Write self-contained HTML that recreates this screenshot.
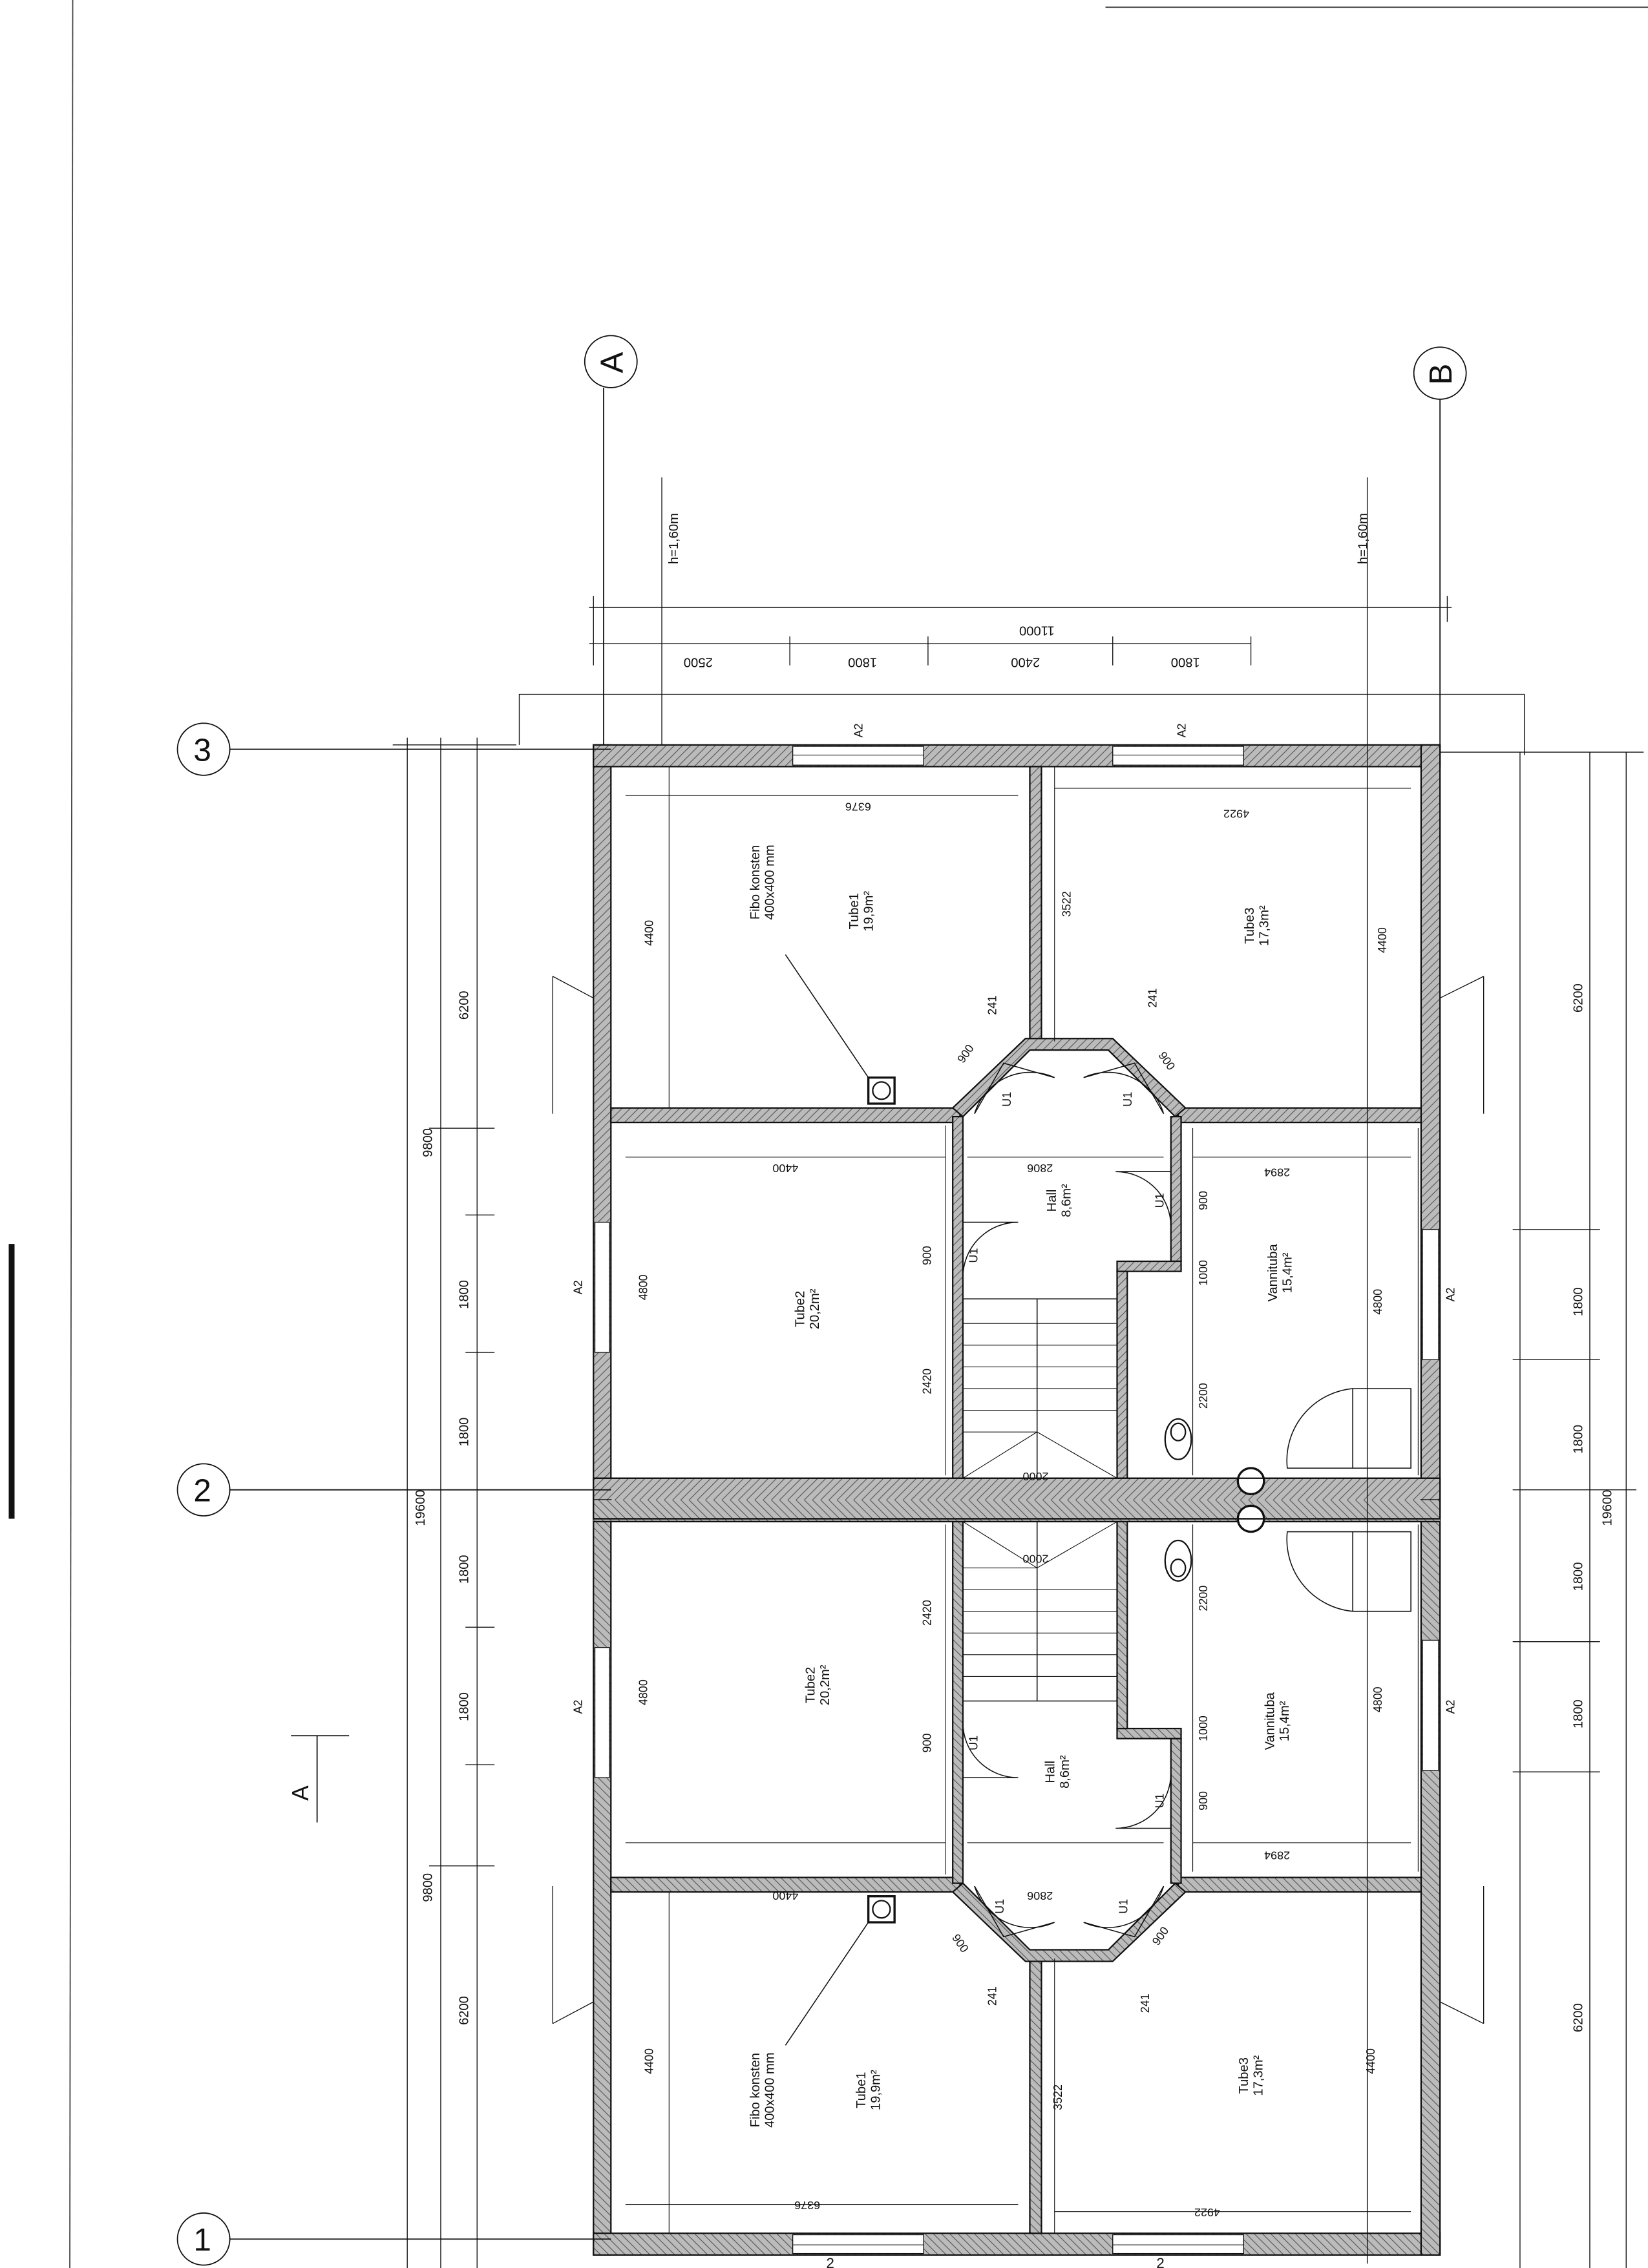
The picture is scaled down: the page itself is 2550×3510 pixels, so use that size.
<!DOCTYPE html>
<html><head><meta charset="utf-8"><style>
html,body{margin:0;padding:0;background:#fff;}
svg{display:block;}
text{font-family:"Liberation Sans",sans-serif;fill:#111;}
</style></head><body>
<svg width="2550" height="3510" viewBox="0 0 1133 1568" preserveAspectRatio="none" xmlns="http://www.w3.org/2000/svg">
<defs>
<pattern id="h" width="4" height="4" patternUnits="userSpaceOnUse" patternTransform="rotate(45)">
<rect width="4" height="4" fill="#bbb"/><line x1="0" y1="0" x2="0" y2="4" stroke="#555" stroke-width="1"/>
</pattern>
<g id="half">
<!-- outer walls -->
<rect x="408" y="515" width="12" height="522" fill="url(#h)" stroke="#111"/>
<rect x="408" y="515" width="582" height="15" fill="url(#h)" stroke="#111"/>
<rect x="977" y="515" width="13" height="522" fill="url(#h)" stroke="#111"/>
<!-- windows -->
<rect x="545" y="516" width="90" height="13" fill="#fff" stroke="#111" stroke-width="0.6"/>
<line x1="545" y1="522" x2="635" y2="522" stroke="#111" stroke-width="0.5"/>
<rect x="765" y="516" width="90" height="13" fill="#fff" stroke="#111" stroke-width="0.6"/>
<line x1="765" y1="522" x2="855" y2="522" stroke="#111" stroke-width="0.5"/>
<rect x="409" y="845" width="10" height="90" fill="#fff" stroke="#111" stroke-width="0.6"/>
<rect x="978" y="850" width="11" height="90" fill="#fff" stroke="#111" stroke-width="0.6"/>
<!-- interior walls -->
<rect x="420" y="766" width="240" height="10" fill="url(#h)" stroke="#111"/>
<rect x="810" y="766" width="167" height="10" fill="url(#h)" stroke="#111"/>
<rect x="708" y="530" width="8" height="190" fill="url(#h)" stroke="#111"/>
<polygon points="655,766 705,718 765,718 815,766 808,772 762,726 708,726 662,772" fill="url(#h)" stroke="#111"/>
<rect x="655" y="772" width="7" height="250" fill="url(#h)" stroke="#111"/>
<rect x="805" y="772" width="7" height="100" fill="url(#h)" stroke="#111"/>
<rect x="768" y="872" width="44" height="7" fill="url(#h)" stroke="#111"/>
<rect x="768" y="879" width="7" height="143" fill="url(#h)" stroke="#111"/>
<!-- party wall half -->
<rect x="408" y="1022" width="582" height="15" fill="url(#h)" stroke="none"/>
<line x1="408" y1="1022" x2="990" y2="1022" stroke="#111"/>
<!-- stairs -->
<rect x="662" y="898" width="106" height="124" fill="none" stroke="#111" stroke-width="0.7"/>
<line x1="713" y1="898" x2="713" y2="1022" stroke="#111" stroke-width="0.7"/>
<g stroke="#111" stroke-width="0.5">
<line x1="662" y1="915" x2="713" y2="915"/><line x1="662" y1="930" x2="713" y2="930"/><line x1="662" y1="945" x2="713" y2="945"/><line x1="662" y1="960" x2="713" y2="960"/><line x1="662" y1="975" x2="713" y2="975"/><line x1="662" y1="990" x2="713" y2="990"/>
<line x1="713" y1="915" x2="768" y2="915"/><line x1="713" y1="930" x2="768" y2="930"/><line x1="713" y1="945" x2="768" y2="945"/><line x1="713" y1="960" x2="768" y2="960"/><line x1="713" y1="975" x2="768" y2="975"/>
<line x1="662" y1="1022" x2="713" y2="990"/><line x1="713" y1="990" x2="768" y2="1022"/>
</g>
<!-- doors -->
<g fill="none" stroke="#111" stroke-width="0.7">
<path d="M662,845 L700,845 A38,38 0 0 0 662,883"/>
<path d="M805,810 L767,810 A38,38 0 0 1 805,848"/>
<path d="M690,735 L670,770 A40,40 0 0 1 725,745 Z"/>
<path d="M780,735 L800,770 A40,40 0 0 0 745,745 Z"/>
<path d="M930,960 A50,50 0 0 0 885,1015 L930,1015 Z"/>
<path d="M930,960 L970,960 L970,1015 L930,1015"/>
</g>
<ellipse cx="810" cy="995" rx="9" ry="14" fill="none" stroke="#111"/>
<ellipse cx="810" cy="990" rx="5" ry="6" fill="none" stroke="#111"/>
<circle cx="860" cy="1024" r="9" fill="#fff" stroke="#111" stroke-width="1.5"/>
<rect x="597" y="745" width="18" height="18" fill="#fff" stroke="#111" stroke-width="1.5"/>
<circle cx="606" cy="754" r="6" fill="none" stroke="#111"/>
<line x1="597" y1="745" x2="540" y2="660" stroke="#111" stroke-width="0.7"/>
<!-- interior dimension lines -->
<g stroke="#111" stroke-width="0.5">
<line x1="430" y1="550" x2="700" y2="550"/><line x1="725" y1="545" x2="970" y2="545"/>
<line x1="460" y1="530" x2="460" y2="766"/><line x1="725" y1="530" x2="725" y2="720"/>
<line x1="940" y1="530" x2="940" y2="766"/>
<line x1="430" y1="800" x2="650" y2="800"/><line x1="665" y1="800" x2="800" y2="800"/>
<line x1="820" y1="800" x2="970" y2="800"/>
<line x1="420" y1="780" x2="420" y2="1020"/><line x1="650" y1="778" x2="650" y2="1020"/>
<line x1="820" y1="780" x2="820" y2="1020"/><line x1="975" y1="780" x2="975" y2="1020"/>
</g>
<!-- small exterior marks -->
<polyline points="380,675 408,690" fill="none" stroke="#111" stroke-width="0.6"/>
<line x1="380" y1="675" x2="380" y2="770" stroke="#111" stroke-width="0.6"/>
<line x1="1020" y1="675" x2="990" y2="690" stroke="#111" stroke-width="0.6"/>
<line x1="1020" y1="675" x2="1020" y2="770" stroke="#111" stroke-width="0.6"/>
</g>
</defs>

<!-- page border lines -->
<line x1="50" y1="0" x2="48" y2="1568" stroke="#444" stroke-width="0.8"/>
<line x1="760" y1="5" x2="1133" y2="5" stroke="#444" stroke-width="0.8"/>
<rect x="6" y="860" width="4" height="190" fill="#111"/>

<!-- context outline -->
<g stroke="#111" stroke-width="0.6" fill="none">
<polyline points="357,515 357,480 1048,480 1048,522"/>
</g>

<use href="#half"/>
<use href="#half" transform="translate(0,2074) scale(1,-1)"/>
<line x1="408" y1="1050" x2="990" y2="1050" stroke="#111"/>
<rect x="408" y="1022" width="582" height="28" fill="none" stroke="#111"/>

<!-- grid lines -->
<g stroke="#111" stroke-width="0.8" fill="none">
<circle cx="140" cy="518" r="18"/><line x1="158" y1="518" x2="420" y2="518"/>
<circle cx="140" cy="1030" r="18"/><line x1="158" y1="1030" x2="420" y2="1030"/>
<circle cx="140" cy="1548" r="18"/><line x1="158" y1="1548" x2="420" y2="1548"/>
<circle cx="420" cy="250" r="18"/><line x1="415" y1="268" x2="415" y2="515"/>
<circle cx="990" cy="258" r="18"/><line x1="990" y1="276" x2="990" y2="515"/>
</g>
<g font-size="22">
<text x="133" y="526">3</text><text x="133" y="1038">2</text><text x="133" y="1556">1</text>
<text x="412" y="258" transform="rotate(-90 420 250)" font-size="22">A</text>
<text x="982" y="266" transform="rotate(-90 990 258)" font-size="22">B</text>
</g>

<!-- h=1,60m lines -->
<g stroke="#111" stroke-width="0.6">
<line x1="455" y1="330" x2="455" y2="515"/><line x1="940" y1="330" x2="940" y2="1565"/>
</g>
<g font-size="9">
<text transform="translate(466,390) rotate(-90)">h=1,60m</text>
<text transform="translate(940,390) rotate(-90)">h=1,60m</text>
</g>

<!-- top dimensions -->
<g stroke="#111" stroke-width="0.6">
<line x1="405" y1="420" x2="998" y2="420"/><line x1="405" y1="445" x2="860" y2="445"/>
<line x1="408" y1="412" x2="408" y2="460"/><line x1="995" y1="412" x2="995" y2="430"/>
<line x1="543" y1="440" x2="543" y2="460"/><line x1="638" y1="440" x2="638" y2="460"/>
<line x1="765" y1="440" x2="765" y2="460"/><line x1="860" y1="440" x2="860" y2="460"/>
</g>
<g font-size="9">
<text transform="translate(725,433) rotate(180)">11000</text>
<text transform="translate(490,455) rotate(180)">2500</text>
<text transform="translate(603,455) rotate(180)">1800</text>
<text transform="translate(715,455) rotate(180)">2400</text>
<text transform="translate(825,455) rotate(180)">1800</text>
</g>

<!-- left dimensions -->
<g stroke="#111" stroke-width="0.6">
<line x1="280" y1="510" x2="280" y2="1568"/><line x1="303" y1="510" x2="303" y2="1568"/>
<line x1="328" y1="510" x2="328" y2="1568"/>
<line x1="270" y1="515" x2="355" y2="515"/><line x1="270" y1="1030" x2="340" y2="1030"/>
<line x1="295" y1="780" x2="340" y2="780"/><line x1="320" y1="840" x2="340" y2="840"/>
<line x1="320" y1="935" x2="340" y2="935"/><line x1="320" y1="1125" x2="340" y2="1125"/>
<line x1="320" y1="1220" x2="340" y2="1220"/><line x1="295" y1="1290" x2="340" y2="1290"/>
<line x1="1045" y1="520" x2="1045" y2="1568"/><line x1="1093" y1="520" x2="1093" y2="1568"/>
<line x1="1118" y1="520" x2="1118" y2="1568"/><line x1="990" y1="520" x2="1130" y2="520"/>
<line x1="1040" y1="850" x2="1100" y2="850"/><line x1="1040" y1="940" x2="1100" y2="940"/>
<line x1="1040" y1="1030" x2="1125" y2="1030"/><line x1="1040" y1="1135" x2="1100" y2="1135"/>
<line x1="1040" y1="1225" x2="1100" y2="1225"/>
</g>
<g font-size="9">
<text transform="translate(292,1055) rotate(-90)">19600</text>
<text transform="translate(297,800) rotate(-90)">9800</text>
<text transform="translate(297,1315) rotate(-90)">9800</text>
<text transform="translate(322,705) rotate(-90)">6200</text>
<text transform="translate(322,1400) rotate(-90)">6200</text>
<text transform="translate(322,905) rotate(-90)">1800</text>
<text transform="translate(322,1000) rotate(-90)">1800</text>
<text transform="translate(322,1095) rotate(-90)">1800</text>
<text transform="translate(322,1190) rotate(-90)">1800</text>
<text transform="translate(1088,700) rotate(-90)">6200</text>
<text transform="translate(1088,1405) rotate(-90)">6200</text>
<text transform="translate(1088,910) rotate(-90)">1800</text>
<text transform="translate(1088,1005) rotate(-90)">1800</text>
<text transform="translate(1088,1100) rotate(-90)">1800</text>
<text transform="translate(1088,1195) rotate(-90)">1800</text>
<text transform="translate(1108,1055) rotate(-90)">19600</text>
</g>

<!-- Section mark -->
<g stroke="#111" stroke-width="0.8"><line x1="200" y1="1200" x2="240" y2="1200"/><line x1="218" y1="1200" x2="218" y2="1260"/></g>
<text transform="translate(212,1245) rotate(-90)" font-size="16">A</text>

<!-- room labels -->
<g font-size="9" text-anchor="middle">
<text transform="translate(590,630) rotate(-90)">Tube1</text><text transform="translate(600,630) rotate(-90)">19,9m²</text>
<text transform="translate(862,640) rotate(-90)">Tube3</text><text transform="translate(872,640) rotate(-90)">17,3m²</text>
<text transform="translate(553,905) rotate(-90)">Tube2</text><text transform="translate(563,905) rotate(-90)">20,2m²</text>
<text transform="translate(726,830) rotate(-90)">Hall</text><text transform="translate(736,830) rotate(-90)">8,6m²</text>
<text transform="translate(878,880) rotate(-90)">Vannituba</text><text transform="translate(888,880) rotate(-90)">15,4m²</text>
<text transform="translate(522,610) rotate(-90)">Fibo konsten</text><text transform="translate(532,610) rotate(-90)">400x400 mm</text>
<text transform="translate(595,1445) rotate(-90)">Tube1</text><text transform="translate(605,1445) rotate(-90)">19,9m²</text>
<text transform="translate(858,1435) rotate(-90)">Tube3</text><text transform="translate(868,1435) rotate(-90)">17,3m²</text>
<text transform="translate(560,1165) rotate(-90)">Tube2</text><text transform="translate(570,1165) rotate(-90)">20,2m²</text>
<text transform="translate(725,1225) rotate(-90)">Hall</text><text transform="translate(735,1225) rotate(-90)">8,6m²</text>
<text transform="translate(876,1190) rotate(-90)">Vannituba</text><text transform="translate(886,1190) rotate(-90)">15,4m²</text>
<text transform="translate(522,1445) rotate(-90)">Fibo konsten</text><text transform="translate(532,1445) rotate(-90)">400x400 mm</text>
</g>
<g font-size="8" text-anchor="middle">
<text transform="translate(400,890) rotate(-90)">A2</text><text transform="translate(1000,895) rotate(-90)">A2</text>
<text transform="translate(400,1180) rotate(-90)">A2</text><text transform="translate(1000,1180) rotate(-90)">A2</text>
<text transform="translate(593,505) rotate(-90)">A2</text><text transform="translate(815,505) rotate(-90)">A2</text>
<text transform="translate(449,645) rotate(-90)">4400</text><text transform="translate(953,650) rotate(-90)">4400</text>
<text transform="translate(449,1425) rotate(-90)">4400</text><text transform="translate(945,1425) rotate(-90)">4400</text>
<text transform="translate(736,625) rotate(-90)">3522</text><text transform="translate(730,1450) rotate(-90)">3522</text>
<text transform="translate(445,890) rotate(-90)">4800</text><text transform="translate(950,900) rotate(-90)">4800</text>
<text transform="translate(445,1170) rotate(-90)">4800</text><text transform="translate(950,1175) rotate(-90)">4800</text>
<text transform="translate(640,955) rotate(-90)">2420</text><text transform="translate(640,1115) rotate(-90)">2420</text>
<text transform="translate(830,965) rotate(-90)">2200</text><text transform="translate(830,1105) rotate(-90)">2200</text>
<text transform="translate(830,880) rotate(-90)">1000</text><text transform="translate(830,1195) rotate(-90)">1000</text>
<text transform="translate(830,830) rotate(-90)">900</text><text transform="translate(830,1245) rotate(-90)">900</text>
<text transform="translate(640,868) rotate(-90)">900</text><text transform="translate(640,1205) rotate(-90)">900</text>
<text transform="translate(672,868) rotate(-90)">U1</text><text transform="translate(672,1205) rotate(-90)">U1</text>
<text transform="translate(800,830) rotate(-90)">U1</text><text transform="translate(800,1245) rotate(-90)">U1</text>
<text transform="translate(695,760) rotate(-90)">U1</text><text transform="translate(778,760) rotate(-90)">U1</text>
<text transform="translate(690,1318) rotate(-90)">U1</text><text transform="translate(775,1318) rotate(-90)">U1</text>
<text transform="translate(685,695) rotate(-90)">241</text><text transform="translate(795,690) rotate(-90)">241</text>
<text transform="translate(685,1380) rotate(-90)">241</text><text transform="translate(790,1385) rotate(-90)">241</text>
<text transform="translate(666,730) rotate(-55)">900</text><text transform="translate(800,735) rotate(55)">900</text>
<text transform="translate(658,1345) rotate(55)">900</text><text transform="translate(800,1340) rotate(-55)">900</text>
<text transform="translate(590,555) rotate(180)">6376</text><text transform="translate(850,560) rotate(180)">4922</text>
<text transform="translate(555,1522) rotate(180)">6376</text><text transform="translate(830,1527) rotate(180)">4922</text>
<text transform="translate(540,805) rotate(180)">4400</text><text transform="translate(715,805) rotate(180)">2806</text>
<text transform="translate(878,808) rotate(180)">2894</text><text transform="translate(712,1018) rotate(180)">2000</text>
<text transform="translate(540,1308) rotate(180)">4400</text><text transform="translate(715,1308) rotate(180)">2806</text>
<text transform="translate(878,1280) rotate(180)">2894</text><text transform="translate(712,1075) rotate(180)">2000</text>
</g>
<g font-size="10"><text x="568" y="1568">2</text><text x="795" y="1568">2</text></g>
</svg>
</body></html>
